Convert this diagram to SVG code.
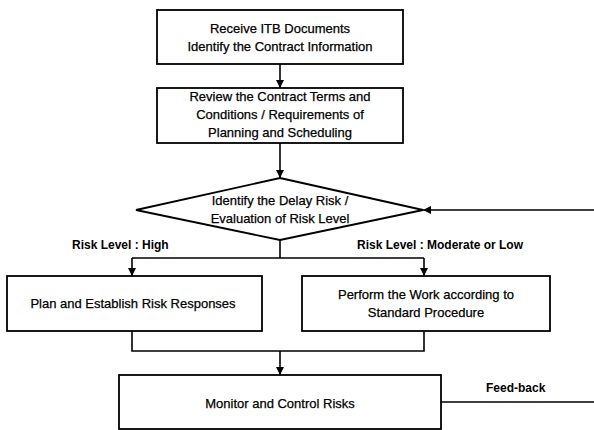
<svg xmlns="http://www.w3.org/2000/svg" width="594" height="430" viewBox="0 0 594 430">
  <style>
    .box { fill: #ffffff; stroke: #000000; stroke-width: 1.8; }
    .line { fill: none; stroke: #000000; stroke-width: 1.6; }
    .arrow { marker-end: url(#head); }
    text { font-family: "Liberation Sans", Arial, sans-serif; font-size: 13px; fill: #000000; stroke: #000000; stroke-width: 0.25; text-anchor: middle; }
    .lbl { font-weight: bold; font-size: 12px; stroke: none; text-anchor: start; }
  </style>
  <defs>
    <marker id="head" viewBox="0 0 10 10" refX="10" refY="5" markerWidth="8" markerHeight="8" markerUnits="userSpaceOnUse" orient="auto">
      <path d="M0 0 L10 5 L0 10 Z" fill="#000000"/>
    </marker>
  </defs>

  <rect width="594" height="430" fill="#ffffff"/>

  <!-- connectors -->
  <g id="connectors">
    <path class="line arrow" d="M280 64 V88"/>
    <path class="line arrow" d="M280 143 V178"/>
    <path class="line" d="M280 240 V258 M132 258 H424"/>
    <path class="line arrow" d="M132 258 V276"/>
    <path class="line arrow" d="M424 258 V276"/>
    <path class="line" d="M132 331 V351 H424 V331"/>
    <path class="line arrow" d="M280 351 V375"/>
    <path class="line arrow" d="M441 402 H600 V210 H423"/>
    <text class="lbl" x="72" y="249">Risk Level : High</text>
    <text class="lbl" x="357" y="249">Risk Level : Moderate or Low</text>
    <text class="lbl" x="486" y="392">Feed-back</text>
  </g>

  <g id="receive-itb">
    <rect class="box" x="157" y="10" width="246" height="54"/>
    <text x="280" y="33">Receive ITB Documents</text>
    <text x="280" y="51">Identify the Contract Information</text>
  </g>

  <g id="review-contract">
    <rect class="box" x="157" y="88" width="246" height="55"/>
    <text x="280" y="101">Review the Contract Terms and</text>
    <text x="280" y="119">Conditions  / Requirements of</text>
    <text x="280" y="137">Planning and Scheduling</text>
  </g>

  <g id="identify-risk">
    <polygon class="box" points="280,178 423,210 280,240 136,210"/>
    <text x="280" y="205">Identify the Delay Risk /</text>
    <text x="280" y="223">Evaluation of Risk Level</text>
  </g>

  <g id="plan-responses">
    <rect class="box" x="7" y="276" width="255" height="55"/>
    <text x="133" y="308">Plan and Establish Risk Responses</text>
  </g>

  <g id="perform-work">
    <rect class="box" x="302" y="276" width="248" height="55"/>
    <text x="426" y="299">Perform the Work according to</text>
    <text x="426" y="317">Standard Procedure</text>
  </g>

  <g id="monitor-control">
    <rect class="box" x="119" y="375" width="322" height="54"/>
    <text x="280" y="408">Monitor and Control  Risks</text>
  </g>
</svg>
